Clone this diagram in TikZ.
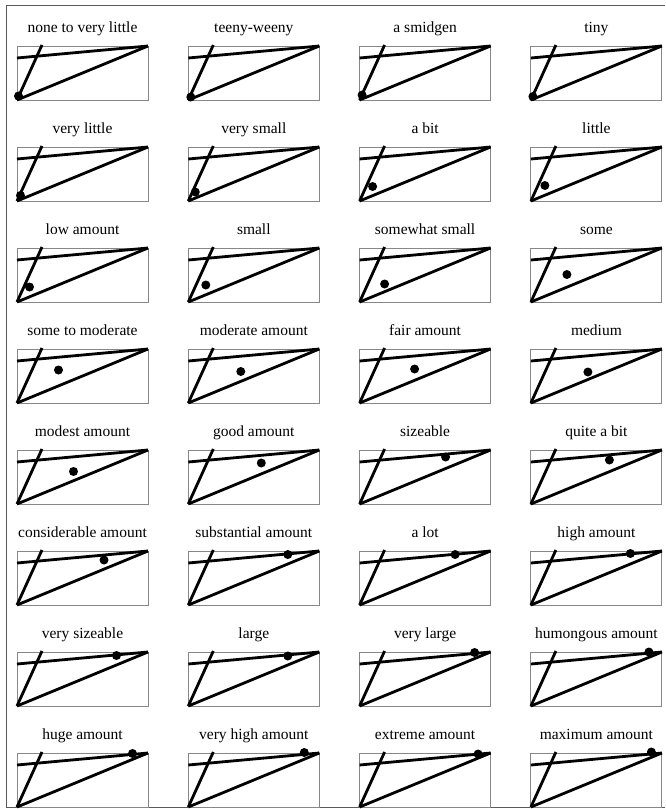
\documentclass[tikz,border=0pt]{standalone}
\usepackage{fontspec}
\setmainfont{Liberation Serif}
\usepackage{tikz}
\usetikzlibrary{calc}
\usepackage{xcolor}
\definecolor{framegray}{RGB}{90, 90, 90}
\definecolor{boxgray}{RGB}{135, 135, 135}
\definecolor{inkblack}{RGB}{0, 0, 0}

\begin{document}
\begin{tikzpicture}[x=1pt, y=-1pt,
  panelbox/.style={draw=boxgray, line width=1pt},
  stroke/.style={inkblack, line width=2.8pt},
  marker/.style={fill=inkblack},
  caption/.style={font=\fontsize{15.5}{18}\selectfont, anchor=base, inner sep=0pt}]

  \useasboundingbox (0,0) rectangle (665,809);

  % Outer frame (right side runs off the page)
  \draw[framegray, line width=1pt] (665,5) -- (6,5) -- (6,807) -- (665,807);

  % Panels: label / dot x / dot y, measured from the box's top-left corner
  \foreach \lbl/\dx/\dy [count=\i from 0] in {
      none to very little/1.5/50, teeny-weeny/2.5/51, a smidgen/2.5/49, tiny/2/50.5,
      very little/3.5/48.5, very small/7/45, a bit/13/39.5, little/14/38.5,
      low amount/12.5/39, small/17.5/37, somewhat small/25/36, some/36/26.5,
      some to moderate/41.5/21, moderate amount/52.5/22.5, fair amount/55/20, medium/57/23,
      modest amount/56.5/21.5, good amount/73/13, sizeable/86/7, quite a bit/78.5/10,
      considerable amount/87/9, substantial amount/99.5/3.5, a lot/95.5/3.5, high amount/99.5/2.5,
      very sizeable/99.5/3.5, large/99.5/4, very large/115/0.5, humongous amount/118/0,
      huge amount/115.5/0.5, very high amount/116/-0.5, extreme amount/118.5/1, maximum amount/120.5/-1}{
    \pgfmathtruncatemacro{\col}{mod(\i,4)}
    \pgfmathtruncatemacro{\row}{int(\i/4)}
    \begin{scope}[shift={(17+171.3*\col, 46+101*\row)}]
      % box and caption
      \draw[panelbox] (0,0) rectangle (131,54);
      \node[caption] (lbl-\i) at (65.5,-14) {\lbl};

      % corners of the figure
      \coordinate (corner-\i) at (0,54);
      \coordinate (apex-\i) at (131,0);
      \coordinate (peak-\i) at (25,-1);
      \coordinate (ledge-\i) at (0,12);

      % the three strokes
      \draw[stroke] (corner-\i) -- (apex-\i);
      \draw[stroke] (corner-\i) -- (peak-\i);
      \draw[stroke] (ledge-\i) -- (apex-\i);

      % the dot
      \fill[marker] (\dx,\dy) circle (4.5);
    \end{scope}
  }

\end{tikzpicture}
\end{document}
